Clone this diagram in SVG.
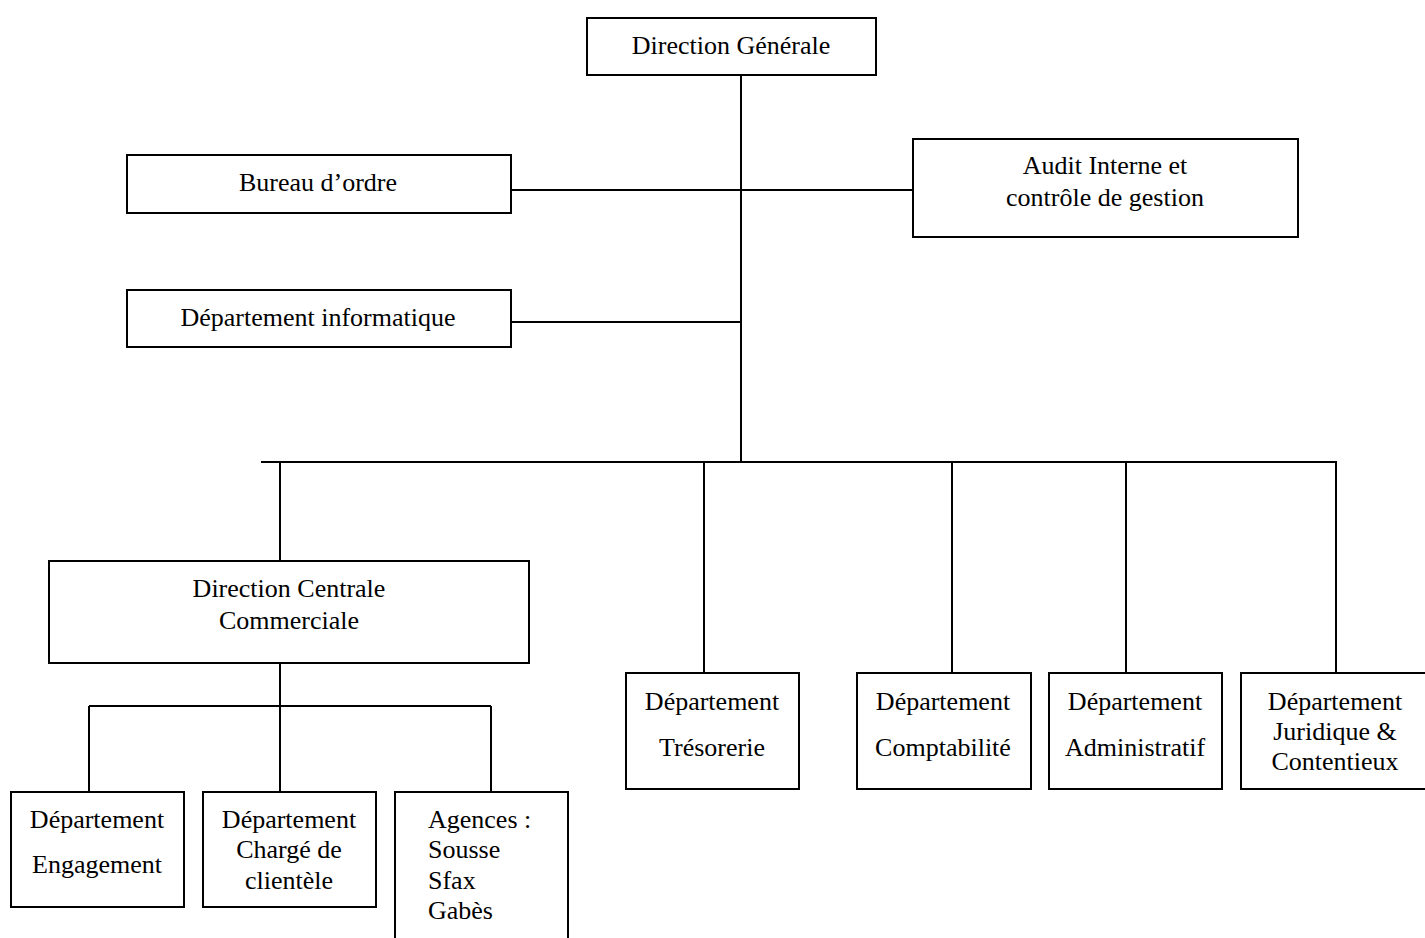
<svg xmlns="http://www.w3.org/2000/svg" width="1425" height="938" viewBox="0 0 1425 938">
<style>
.box{fill:#fff;stroke:#000;stroke-width:2}
.ln{fill:none;stroke:#000;stroke-width:2}
text{font-family:"Liberation Serif","Times New Roman",serif;font-size:26px;fill:#000}
.c{text-anchor:middle}
</style>
<rect x="0" y="0" width="1425" height="938" fill="#fff"/>
<g id="connectors">
<path class="ln" d="M741 75V462"/>
<path class="ln" d="M511 190H913"/>
<path class="ln" d="M511 322H741"/>
<path class="ln" d="M261 462H1337"/>
<path class="ln" d="M280 462V561"/>
<path class="ln" d="M704 462V673"/>
<path class="ln" d="M952 462V673"/>
<path class="ln" d="M1126 462V673"/>
<path class="ln" d="M1336 462V673"/>
<path class="ln" d="M280 656V792"/>
<path class="ln" d="M89 706H491"/>
<path class="ln" d="M89 706V792"/>
<path class="ln" d="M491 706V792"/>
</g>
<g id="direction-generale"><rect class="box" x="587" y="18" width="289" height="57"/><text class="c" x="731" y="54">Direction Générale</text></g>
<g id="bureau-ordre"><rect class="box" x="127" y="155" width="384" height="58"/><text class="c" x="318" y="191">Bureau d’ordre</text></g>
<g id="audit"><rect class="box" x="913" y="139" width="385" height="98"/><text class="c" x="1105" y="174">Audit Interne et</text><text class="c" x="1105" y="206">contrôle de gestion</text></g>
<g id="dept-info"><rect class="box" x="127" y="290" width="384" height="57"/><text class="c" x="318" y="326">Département informatique</text></g>
<g id="dcc"><rect class="box" x="49" y="561" width="480" height="102"/><text class="c" x="289" y="597">Direction Centrale</text><text class="c" x="289" y="629">Commerciale</text></g>
<g id="engagement"><rect class="box" x="11" y="792" width="173" height="115"/><text class="c" x="97" y="828">Département</text><text class="c" x="97" y="873">Engagement</text></g>
<g id="charge-clientele"><rect class="box" x="203" y="792" width="173" height="115"/><text class="c" x="289" y="828">Département</text><text class="c" x="289" y="858">Chargé de</text><text class="c" x="289" y="889">clientèle</text></g>
<g id="agences"><rect class="box" x="395" y="792" width="173" height="170"/><text x="428" y="828">Agences :</text><text x="428" y="858">Sousse</text><text x="428" y="889">Sfax</text><text x="428" y="919">Gabès</text></g>
<g id="tresorerie"><rect class="box" x="626" y="673" width="173" height="116"/><text class="c" x="712" y="710">Département</text><text class="c" x="712" y="756">Trésorerie</text></g>
<g id="comptabilite"><rect class="box" x="857" y="673" width="174" height="116"/><text class="c" x="943" y="710">Département</text><text class="c" x="943" y="756">Comptabilité</text></g>
<g id="administratif"><rect class="box" x="1049" y="673" width="173" height="116"/><text class="c" x="1135" y="710">Département</text><text class="c" x="1135" y="756">Administratif</text></g>
<g id="juridique"><rect class="box" x="1241" y="673" width="200" height="116"/><text class="c" x="1335" y="710">Département</text><text class="c" x="1335" y="740">Juridique &amp;</text><text class="c" x="1335" y="770">Contentieux</text></g>
</svg>
